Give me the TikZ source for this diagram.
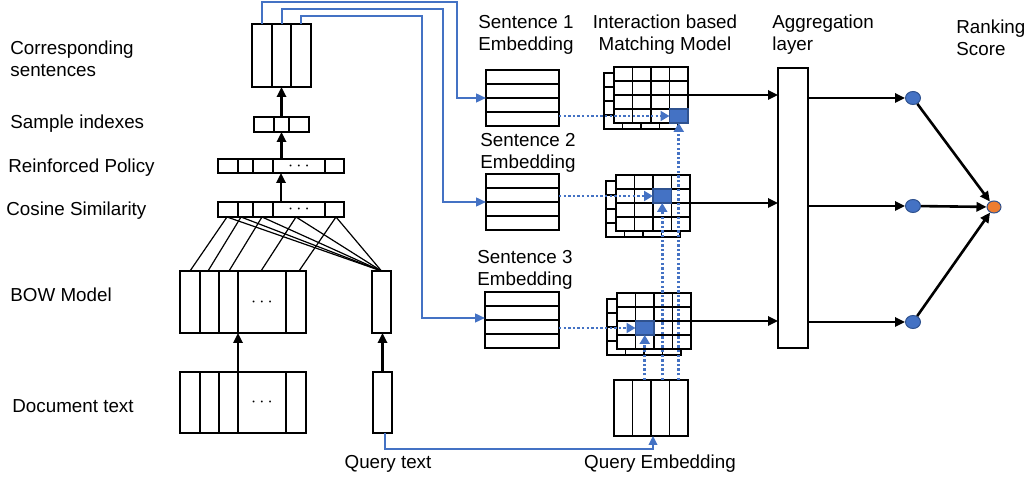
\documentclass[tikz,border=0pt]{standalone}
\usepackage{fontspec}
\setmainfont{Liberation Sans}
\usetikzlibrary{arrows.meta,shapes.geometric,calc}
\definecolor{myblue}{HTML}{4472C4}
\definecolor{myborder}{HTML}{2F528F}
\definecolor{myorange}{HTML}{ED7D31}
\newlength\pxu \setlength\pxu{0.5pt}
\tikzset{
  box/.style={draw=black, line width=0.9pt, fill=white, inner sep=0pt, outer sep=0pt},
  dl/.style={draw=black, line width=0.9pt},
  fan/.style={draw=black, line width=0.6pt},
  lbl/.style={inner sep=0pt, anchor=west, align=left},
  clbl/.style={inner sep=0pt, align=center},
  arr/.style={draw=black, line width=1.3pt, -{Triangle[length=5pt,width=4.6pt]}},
  bline/.style={draw=myblue, line width=1pt, -{Triangle[length=5pt,width=4.4pt]}},
  qline/.style={draw=myblue, line width=0.7pt, -{Triangle[length=4.5pt,width=4.4pt]}},
  dotarr/.style={draw=myblue, line width=1.35pt, dash pattern=on 1.2pt off 1.1pt, -{Triangle[length=4.5pt,width=5pt]}},
  hl/.style={draw=myborder, line width=0.6pt, fill=myblue, inner sep=0pt, outer sep=0pt, anchor=north west, minimum width=18.5\pxu, minimum height=14\pxu},
  bdot/.style={ellipse, draw=myborder, line width=0.5pt, fill=myblue, inner sep=0pt, minimum width=15\pxu, minimum height=13\pxu},
  odot/.style={ellipse, draw=myborder, line width=0.5pt, fill=myorange, inner sep=0pt, minimum width=14\pxu, minimum height=12\pxu}
}
\newcommand\matgrid[3]{%
  \filldraw[dl, fill=white] (#1-10,#2+6) rectangle (#1+64,#2+62);
  \foreach \k in {1,2,3} {
    \draw[dl] (#1-10,#2+6+14*\k) -- (#1+64,#2+6+14*\k);
    \draw[dl] (#1-10+18.5*\k,#2+6) -- (#1-10+18.5*\k,#2+62);
  }
  \node[box, anchor=north west, minimum width=74\pxu, minimum height=56\pxu] (#3) at (#1,#2) {};
  \foreach \k in {1,2,3} {
    \draw[dl] (#1,#2+14*\k) -- (#1+74,#2+14*\k);
    \draw[dl] (#1+18.5*\k,#2) -- (#1+18.5*\k,#2+56);
  }
}
\begin{document}
\begin{tikzpicture}[x=0.5pt,y=-0.5pt, font=\fontsize{9.4}{11}\selectfont]
\useasboundingbox (0,0) rectangle (1029,480);

% ---------- left labels ----------
\node[lbl] (lcs) at (10,59) {Corresponding\\sentences};
\node[lbl] (lsi) at (10,124) {Sample indexes};
\node[lbl] (lrp) at (8,168) {Reinforced Policy};
\node[lbl] (lcos) at (6,211) {Cosine Similarity};
\node[lbl] (lbow) at (10,295) {BOW Model};
\node[lbl] (ldoc) at (12,406) {Document text};

% ---------- corresponding sentences ----------
\node[box, minimum width=59\pxu, minimum height=63\pxu] (cs) at (281.5,55.5) {};
\draw[dl] (272,24) -- (272,87);
\draw[dl] (291,24) -- (291,87);

% ---------- sample indexes ----------
\node[box, minimum width=55\pxu, minimum height=15\pxu] (si) at (281.5,124.5) {};
\draw[dl] (274,117) -- (274,132);
\draw[dl] (289,117) -- (289,132);

% ---------- reinforced policy ----------
\node[box, minimum width=126\pxu, minimum height=14\pxu] (rp) at (281,166) {};
\foreach \x in {238,253,273,325} \draw[dl] (\x,159) -- (\x,173);
\node[inner sep=0pt] (rpd) at (299,166) {$\cdots$};

% ---------- cosine similarity ----------
\node[box, minimum width=126\pxu, minimum height=15\pxu] (cos) at (281,209.5) {};
\foreach \x in {238,253,273,325} \draw[dl] (\x,202) -- (\x,217);
\node[inner sep=0pt] (cosd) at (299,209.5) {$\cdots$};

% ---------- BOW ----------
\node[box, minimum width=126\pxu, minimum height=62\pxu] (bow) at (243,302) {};
\foreach \x in {200,219,238,286} \draw[dl] (\x,271) -- (\x,333);
\node[inner sep=0pt] (bowd) at (262,302) {$\cdots$};
\node[box, minimum width=19\pxu, minimum height=62\pxu] (qv) at (381.5,302) {};

% ---------- document ----------
\node[box, minimum width=126\pxu, minimum height=61\pxu] (doc) at (243,402.5) {};
\foreach \x in {200,219,238,286} \draw[dl] (\x,372) -- (\x,433);
\node[inner sep=0pt] (docd) at (262,402) {$\cdots$};
\node[box, minimum width=19\pxu, minimum height=61\pxu] (qt) at (382.5,402.5) {};

% ---------- fan lines ----------
\foreach \a/\b in {227/190, 241/208, 262/229, 296/261, 336/299} {
  \draw[fan] (\a,217) -- (\b,271);
  \draw[fan] (\a,217) -- (qv.north);
}

% ---------- black up arrows ----------
\draw[arr] (si.north) -- (cs.south);
\draw[arr] (rp.north -| si.south) -- (si.south);
\draw[arr] (cos.north) -- (rp.south);
\draw[arr] ($(doc.north)+(-5,0)$) -- ($(bow.south)+(-5,0)$);
\draw[arr] (qt.north) -- (qt.north |- qv.south);

% ---------- sentence embeddings ----------
\node[lbl] (ls1) at (478,35) {Sentence 1\\Embedding};
\node[lbl] (ls2) at (480,153) {Sentence 2\\Embedding};
\node[lbl] (ls3) at (477,270) {Sentence 3\\Embedding};

\node[box, minimum width=73\pxu, minimum height=56\pxu] (s1) at (522.5,98) {};
\foreach \y in {84,98,112} \draw[dl] (486,\y) -- (559,\y);
\node[box, minimum width=73\pxu, minimum height=56\pxu] (s2) at (522.5,202) {};
\foreach \y in {188,202,216} \draw[dl] (486,\y) -- (559,\y);
\node[box, minimum width=74\pxu, minimum height=56\pxu] (s3) at (522,320) {};
\foreach \y in {306,320,334} \draw[dl] (485,\y) -- (559,\y);

% ---------- blue routing ----------
\coordinate (c1) at (262,24);
\coordinate (c2) at (282,24);
\coordinate (c3) at (301,24);
\coordinate (r1) at (457,2);
\coordinate (r2) at (443,9);
\coordinate (r3) at (422,16);
\draw[bline] (c1) |- (r1) |- (s1.west);
\draw[bline] (c2) |- (r2) |- (s2.west);
\draw[bline] (c3) |- (r3) |- ($(s3.west)+(0,-2)$);

% ---------- matching grids ----------
\node[clbl] (lmm) at (665,35) {Interaction based\\Matching Model};
\matgrid{614}{67}{g1}
\matgrid{616}{175}{g2}
\matgrid{617}{293}{g3}
\node[hl] (h1) at (669.5,109) {};
\node[hl] (h2) at (653,189) {};
\node[hl] (h3) at (635.5,321) {};

% ---------- query embedding ----------
\node[box, minimum width=74\pxu, minimum height=56\pxu] (qe) at (651,408) {};
\foreach \x in {632.5,651,669.5} \draw[dl] (\x,380) -- (\x,436);
\node[clbl] (lqt) at (388,464) {Query text};
\node[clbl] (lqe) at (660,464) {Query Embedding};
\coordinate (qa) at (653,449);
\draw[qline] ($(qt.south)+(2.5,0)$) |- (qa) -- (qa |- qe.south);

% ---------- dotted arrows ----------
\draw[dotarr] (s1.east |- h1.west) -- (h1.west);
\draw[dotarr] (s2.east |- h2.west) -- (h2.west);
\draw[dotarr] (s3.east |- h3.west) -- (h3.west);
\draw[dotarr] (qe.north -| h1.south) -- (h1.south);
\draw[dotarr] (qe.north -| h2.south) -- (h2.south);
\draw[dotarr] (qe.north -| h3.south) -- (h3.south);

% ---------- aggregation ----------
\node[lbl] (lagg) at (772,35) {Aggregation\\layer};
\node[box, minimum width=30\pxu, minimum height=280\pxu] (agg) at (793,208) {};
\draw[arr] (g1.east) -- (agg.west |- g1.east);
\draw[arr] (g2.east) -- (agg.west |- g2.east);
\draw[arr] (g3.east) -- (agg.west |- g3.east);

% ---------- ranking ----------
\node[lbl] (lrs) at (956,38) {Ranking\\Score};
\node[bdot] (b1) at (913,98) {};
\node[bdot] (b2) at (913,206) {};
\node[bdot] (b3) at (913,322) {};
\node[odot] (o) at (994,207) {};
\draw[arr] (agg.east |- b1) -- (b1.west);
\draw[arr] (agg.east |- b2) -- (b2.west);
\draw[arr] (agg.east |- b3) -- (b3.west);
\draw[arr] (b1) -- (o);
\draw[arr] (b2) -- (o);
\draw[arr] (b3) -- (o);
\end{tikzpicture}
\end{document}
